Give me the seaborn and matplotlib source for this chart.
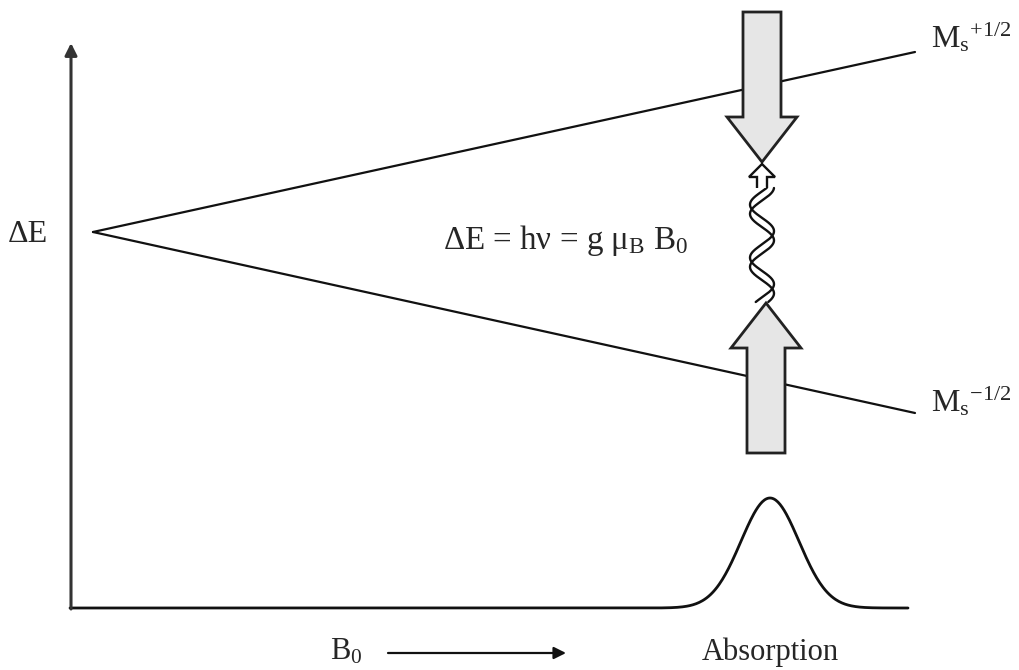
import numpy as np
import pandas as pd
import matplotlib
matplotlib.use("Agg")
import matplotlib.pyplot as plt
import seaborn as sns
from matplotlib.patches import Polygon

# --- diagram data (canvas units, y pointing up) ---
level_field = [93, 915]            # field where the levels start / end
level_up = [438, 618]              # Ms = +1/2 energy
level_down = [438, 257]            # Ms = -1/2 energy
baseline_field = [70, 908]         # spectrum baseline extent
baseline_y = 62
peak_field = 770                   # resonance field
peak_height = 110
peak_width = 29
resonance_x = 762

sns.set_theme(style="white")
plt.rcParams["font.family"] = ["Liberation Serif", "DejaVu Serif"]
plt.rcParams["mathtext.fontset"] = "custom"
plt.rcParams["mathtext.rm"] = "Liberation Serif"
plt.rcParams["mathtext.it"] = "Liberation Serif:italic"

fig = plt.figure(figsize=(10.19, 6.70), dpi=100)
ax = fig.add_axes([0, 0, 1, 1])
ax.set_xlim(0, 1019)
ax.set_ylim(0, 670)
ax.axis("off")

ink = "#111111"

# Zeeman levels
levels = pd.DataFrame({
    "B": level_field + level_field,
    "E": level_up + level_down,
    "level": ["+1/2", "+1/2", "-1/2", "-1/2"],
})
sns.lineplot(data=levels, x="B", y="E", units="level", estimator=None,
             color=ink, lw=1.6, ax=ax, legend=False)

# absorption spectrum along the baseline
B = np.linspace(baseline_field[0], baseline_field[1], 800)
absorb = baseline_y + peak_height * np.exp(-0.5 * ((B - peak_field) / peak_width) ** 2)
sns.lineplot(x=B, y=absorb, color=ink, lw=2.0, ax=ax)

# energy axis with arrow
ax.annotate("", xy=(71, 627), xytext=(71, baseline_y - 1),
            arrowprops=dict(arrowstyle="-|>", color="#333333", lw=2.2,
                            mutation_scale=18, shrinkA=0, shrinkB=0))

# big block arrows (incoming / absorbed radiation)
def block_arrow(xc, tail, tip, shaft_w, head_w, head_len):
    s = np.sign(tip - tail)
    base = tip - s * head_len
    pts = [(xc - shaft_w / 2, tail), (xc - shaft_w / 2, base),
           (xc - head_w / 2, base), (xc, tip), (xc + head_w / 2, base),
           (xc + shaft_w / 2, base), (xc + shaft_w / 2, tail)]
    ax.add_patch(Polygon(pts, closed=True, fc="#e6e6e6", ec="#222222",
                         lw=2.0, joinstyle="miter", zorder=3))

block_arrow(762, 658, 508, 38, 70, 45)
block_arrow(766, 217, 367, 38, 70, 45)

# wavy photon ribbon
y = np.linspace(368, 482, 400)
k = 2 * np.pi / 53
amp = 12
x1 = resonance_x + amp * np.sin(k * (y - 368) + 0.55)
x2 = resonance_x + amp * np.sin(k * (y - 368) - 0.55)
ax.plot(x1, y, color=ink, lw=1.7, zorder=4)
ax.plot(x2, y, color=ink, lw=1.7, zorder=4)

# small open arrowhead of the photon
tip_y, hb = 506, 493
pts = [(resonance_x - 5, 482), (resonance_x - 5, hb), (resonance_x - 13, hb),
       (resonance_x, tip_y), (resonance_x + 13, hb), (resonance_x + 5, hb),
       (resonance_x + 5, 482)]
ax.add_patch(Polygon(pts, closed=False, fc="white", ec=ink, lw=1.7, zorder=5))

# labels
fs = 22
ax.text(8, 435, "ΔE", fontsize=fs + 1, ha="left", va="center")
ax.text(443, 430, r"ΔE = hν = g μ$_\mathrm{B}$ B$_0$",
        fontsize=fs + 1.8, ha="left", va="center")
ax.text(931, 615, r"M$_\mathrm{s}$$^{+1/2}$", fontsize=fs + 1, ha="left", va="bottom")
ax.text(931, 252, r"M$_\mathrm{s}$$^{-1/2}$", fontsize=fs + 1, ha="left", va="bottom")
ax.text(330, 18, r"B$_0$", fontsize=fs, ha="left", va="center")
ax.text(peak_field, 18, "Absorption", fontsize=fs, ha="center", va="center")
ax.annotate("", xy=(566, 17), xytext=(388, 17),
            arrowprops=dict(arrowstyle="-|>", color=ink, lw=1.6,
                            mutation_scale=18, shrinkA=0, shrinkB=0))

fig.savefig("out.png", dpi=100, facecolor="white")
